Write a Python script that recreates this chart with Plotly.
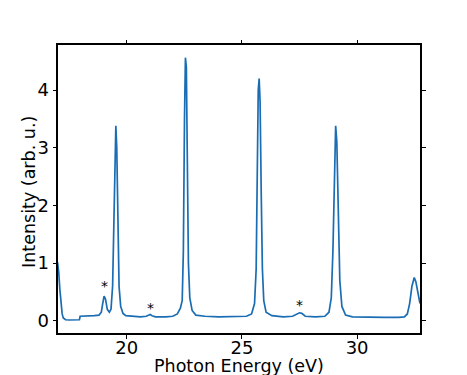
import plotly.graph_objects as go

energy = [17.0, 17.05, 17.1, 17.15, 17.2, 17.25, 17.35, 17.5, 17.7, 17.95, 17.98, 18.2, 18.4, 18.6, 18.8,
          18.9, 18.96, 19.02, 19.08, 19.16, 19.25, 19.32, 19.39, 19.44, 19.49, 19.53, 19.57, 19.62, 19.67,
          19.74, 19.84, 19.96, 20.3, 20.6, 20.85, 20.95, 21.02, 21.1, 21.25, 21.7, 22.0, 22.2, 22.33, 22.41,
          22.46, 22.51, 22.55, 22.59, 22.63, 22.68, 22.74, 22.84, 23.0, 23.4, 24.0, 24.6, 25.2, 25.42, 25.55,
          25.62, 25.67, 25.71, 25.75, 25.79, 25.84, 25.89, 25.95, 26.05, 26.3, 26.8, 27.2, 27.38, 27.5, 27.6,
          27.75, 28.2, 28.6, 28.78, 28.88, 28.95, 29.01, 29.07, 29.12, 29.18, 29.25, 29.34, 29.5, 29.8, 30.5,
          31.2, 31.8, 32.05, 32.18, 32.28, 32.38, 32.48, 32.55, 32.63, 32.73]
intensity = [1.02, 0.85, 0.55, 0.3, 0.12, 0.05, 0.02, 0.015, 0.02, 0.02, 0.08, 0.08, 0.085, 0.09, 0.1,
             0.15, 0.3, 0.43, 0.38, 0.2, 0.15, 0.2, 0.6, 1.7, 2.9, 3.38, 3.0, 1.6, 0.6,
             0.25, 0.13, 0.09, 0.08, 0.07, 0.08, 0.1, 0.11, 0.09, 0.07, 0.07, 0.08, 0.12, 0.22, 0.35,
             1.2, 3.5, 4.56, 4.4, 3.0, 1.0, 0.4, 0.18, 0.1, 0.08, 0.07, 0.07, 0.08, 0.12, 0.3,
             0.9, 2.5, 4.0, 4.2, 3.8, 2.2, 0.9, 0.35, 0.15, 0.09, 0.07, 0.08, 0.11, 0.14, 0.13,
             0.08, 0.07, 0.08, 0.15, 0.4, 1.2, 2.6, 3.38, 3.1, 1.8, 0.7, 0.25, 0.1, 0.07, 0.06,
             0.06, 0.06, 0.07, 0.12, 0.3, 0.6, 0.75, 0.68, 0.5, 0.3]

star_x = [19.04, 21.03, 27.52]
star_y = [0.6, 0.22, 0.27]

x_ticks = [20, 25, 30]
y_ticks = [0, 1, 2, 3, 4]

x_title = "Photon Energy (eV)"
y_title = "Intensity (arb. u.)"

FONT = "DejaVu Sans"

fig = go.Figure()
fig.add_trace(go.Scatter(x=energy, y=intensity, mode="lines",
                         line=dict(color="#1a6db3", width=1.7), showlegend=False))
for sx, sy in zip(star_x, star_y):
    fig.add_annotation(x=sx, y=sy, text="*", showarrow=False,
                       font=dict(family=FONT, size=14, color="black"))

fig.add_annotation(text=x_title, xref="paper", yref="paper", x=0.5, y=-0.115,
                   xanchor="center", yanchor="middle", showarrow=False, borderpad=0,
                   font=dict(family=FONT, size=17.5, color="black"))
fig.add_annotation(text=y_title, xref="paper", yref="paper", x=-0.08, y=0.49,
                   xanchor="center", yanchor="middle", textangle=-90, showarrow=False, borderpad=0,
                   font=dict(family=FONT, size=17.5, color="black"))

axis_common = dict(showline=True, linecolor="black", linewidth=2, mirror="ticks",
                   ticks="outside", ticklen=3.5, tickwidth=1.2, tickcolor="black",
                   showgrid=False, zeroline=False, automargin=False,
                   tickfont=dict(family=FONT, size=18, color="black"))
fig.update_xaxes(range=[17.02, 32.73], tickvals=x_ticks, ticklabelstandoff=-6, **axis_common)
fig.update_yaxes(range=[-0.21, 4.78], tickvals=y_ticks, **axis_common)
fig.update_layout(width=467, height=375, margin=dict(l=58, r=47, t=45, b=42),
                  paper_bgcolor="white", plot_bgcolor="white")
fig.write_html("out.html", config={"displayModeBar": False},
               post_script="document.body.style.margin='0';document.body.style.overflow='hidden';")
